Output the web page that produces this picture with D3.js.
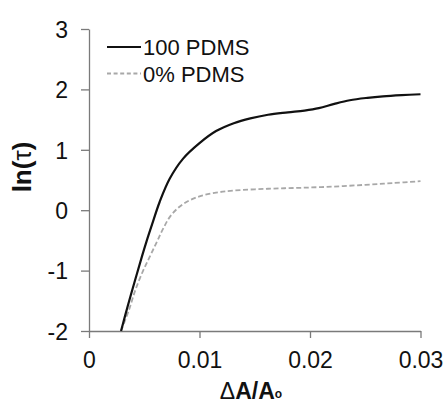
<!DOCTYPE html>
<html>
<head>
<meta charset="utf-8">
<script src="https://cdn.jsdelivr.net/npm/d3@7"></script>
<style>
  html, body { margin: 0; padding: 0; background: #fff; }
  svg { display: block; font-family: "Liberation Sans", Arial, sans-serif; }
  .axis path, .axis line { stroke: #7a7a7a; stroke-width: 1.3; }
  .axis text { fill: #111; font-size: 23px; }
</style>
</head>
<body>
<svg width="447" height="403"></svg>
<script>
(function(d3) {
  "use strict";

  // series: 100 PDMS (solid black)
  const xPdms100 = [0.0029, 0.0035, 0.0042, 0.0048, 0.0052, 0.0057, 0.0064, 0.0073, 0.0085, 0.0100,
    0.0115, 0.0131, 0.0146, 0.0162, 0.0180, 0.0195, 0.0208, 0.0222, 0.0236, 0.0252, 0.0266, 0.0283, 0.0300];
  const yPdms100 = [-2.0, -1.59, -1.14, -0.76, -0.52, -0.24, 0.14, 0.52, 0.85, 1.11,
    1.31, 1.44, 1.52, 1.58, 1.62, 1.65, 1.69, 1.76, 1.82, 1.86, 1.885, 1.905, 1.92];

  // series: 0% PDMS (dashed grey)
  const xPdms0 = [0.0029, 0.0036, 0.0042, 0.0049, 0.0055, 0.0061, 0.0067, 0.0074, 0.0085, 0.0100,
    0.0115, 0.0131, 0.0162, 0.0190, 0.0220, 0.0250, 0.0275, 0.0300];
  const yPdms0 = [-2.0, -1.66, -1.32, -1.0, -0.77, -0.54, -0.31, -0.09, 0.10, 0.23,
    0.29, 0.325, 0.355, 0.37, 0.39, 0.42, 0.45, 0.48];

  const xTicks = [0, 0.01, 0.02, 0.03];
  const yTicks = [-2, -1, 0, 1, 2, 3];
  const seriesNames = ["100 PDMS", "0% PDMS"];

  const svg = d3.select("svg");
  const margin = { top: 29, right: 26.5, bottom: 72, left: 89 };
  const width = +svg.attr("width");
  const height = +svg.attr("height");
  const innerWidth = width - margin.left - margin.right;
  const innerHeight = height - margin.top - margin.bottom;

  const xScale = d3.scaleLinear().domain([0, 0.03]).range([0, innerWidth]);
  const yScale = d3.scaleLinear().domain([-2, 3]).range([innerHeight, 0]);

  const g = svg.append("g")
    .attr("transform", `translate(${margin.left},${margin.top})`);

  const xAxis = d3.axisBottom(xScale)
    .tickValues(xTicks)
    .tickFormat(d => d === 0 ? "0" : d.toFixed(2))
    .tickSize(7)
    .tickSizeOuter(0)
    .tickPadding(14);

  const yAxis = d3.axisLeft(yScale)
    .tickValues(yTicks)
    .tickFormat(d => String(d))
    .tickSize(8)
    .tickSizeOuter(0)
    .tickPadding(13);

  g.append("g").attr("class", "axis").call(yAxis)
    .selectAll("text").attr("dy", "0.36em");

  g.append("g").attr("class", "axis")
    .attr("transform", `translate(0,${innerHeight})`)
    .call(xAxis);

  g.selectAll(".axis .domain").attr("fill", "none");

  const line = d3.line()
    .x(d => xScale(d[0]))
    .y(d => yScale(d[1]))
    .curve(d3.curveCatmullRom.alpha(0.5));

  const data100 = d3.zip(xPdms100, yPdms100);
  const data0 = d3.zip(xPdms0, yPdms0);

  g.append("path")
    .datum(data0)
    .attr("fill", "none")
    .attr("stroke", "#a8a8a8")
    .attr("stroke-width", 1.8)
    .attr("stroke-dasharray", "5,2.6")
    .attr("d", line);

  g.append("path")
    .datum(data100)
    .attr("fill", "none")
    .attr("stroke", "#111")
    .attr("stroke-width", 2.2)
    .attr("d", line);

  // legend
  const legend = svg.append("g");
  const legendRows = [
    { name: seriesNames[0], y: 47, stroke: "#111", width: 2.2, dash: null },
    { name: seriesNames[1], y: 73.5, stroke: "#a8a8a8", width: 1.8, dash: "4,2.6" }
  ];
  legendRows.forEach(r => {
    legend.append("line")
      .attr("x1", 107).attr("x2", 141)
      .attr("y1", r.y).attr("y2", r.y)
      .attr("stroke", r.stroke)
      .attr("stroke-width", r.width)
      .attr("stroke-dasharray", r.dash);
    legend.append("text")
      .attr("x", 143)
      .attr("y", r.y + 8)
      .attr("font-size", 22)
      .attr("fill", "#111")
      .text(r.name);
  });

  // axis titles
  svg.append("text")
    .attr("transform", "translate(31,167) rotate(-90)")
    .attr("text-anchor", "middle")
    .attr("font-size", 26)
    .attr("font-weight", "bold")
    .attr("fill", "#111")
    .call(t => {
      t.append("tspan").text("ln(");
      t.append("tspan").attr("font-weight", "normal").text("τ");
      t.append("tspan").text(")");
    });

  svg.append("text")
    .attr("x", 251)
    .attr("y", 399)
    .attr("text-anchor", "middle")
    .attr("font-size", 23)
    .attr("fill", "#111")
    .call(t => {
      t.append("tspan").text("Δ");
      t.append("tspan").attr("font-weight", "bold").text("A/A");
      t.append("tspan").attr("font-weight", "bold").attr("font-size", 12).attr("dy", -1).text("o");
    });
})(d3);
</script>
</body>
</html>
